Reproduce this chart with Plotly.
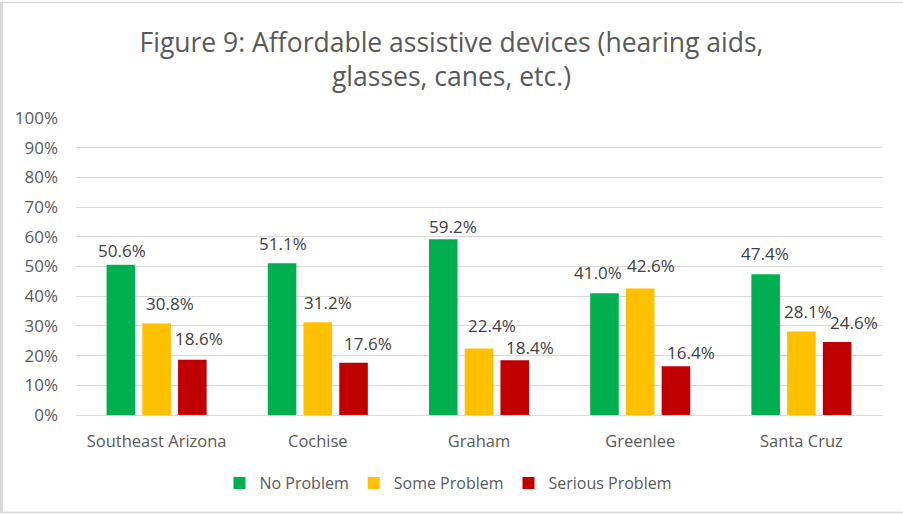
import plotly.graph_objects as go

categories = ["Southeast Arizona", "Cochise", "Graham", "Greenlee", "Santa Cruz"]
no_problem = [0.506, 0.511, 0.592, 0.410, 0.474]
some_problem = [0.308, 0.312, 0.224, 0.426, 0.281]
serious_problem = [0.186, 0.176, 0.184, 0.164, 0.246]
series_names = ["No Problem", "Some Problem", "Serious Problem"]
colors = ["#00B050", "#FFC000", "#C00000"]
y_ticks = [i / 10 for i in range(11)]

# label nudges (px) mimicking the reference's hand-placed data labels
label_dx = [
    [1, 1, 10, -6, -1],
    [13, 10, 13, 11, 7],
    [7, 14, 15, 15, 17],
]
label_dy = [
    [1, 6, -1, 7, 7],
    [7, 6, 9, 9, 7],
    [8, 6, -1, 0, 6],
]

FONT = "Open Sans"
L, R, T, B = 76, 21, 118, 99
W, H = 903, 514
PW, PH = W - L - R, H - T - B
BARGAP, BARGROUPGAP = 0.335, 0.2

fig = go.Figure()
series = [no_problem, some_problem, serious_problem]
for name, vals, col in zip(series_names, series, colors):
    fig.add_trace(go.Bar(
        x=categories, y=vals, name=name, marker_color=col,
        marker_line_width=0, cliponaxis=False,
    ))

cat_w = PW / len(categories)
slot = (1 - BARGAP) * cat_w / len(series)
for si, vals in enumerate(series):
    for ci, (cat, v) in enumerate(zip(categories, vals)):
        fig.add_annotation(
            x=cat, y=v, xref="x", yref="y", text=f"{v*100:.1f}%",
            showarrow=False, xanchor="center", yanchor="bottom",
            xshift=(si - 1) * slot + label_dx[si][ci], yshift=label_dy[si][ci],
            font=dict(family=FONT, size=17, color="#404040"),
        )

def px_x(p):
    return (p - L) / PW

def px_y(p):
    return (H - B - p) / PH

fig.update_layout(
    width=W, height=H,
    paper_bgcolor="white", plot_bgcolor="white",
    barmode="group", bargap=BARGAP, bargroupgap=BARGROUPGAP,
    margin=dict(l=L, r=R, t=T, b=B, autoexpand=False),
    title=dict(text="Figure 9: Affordable assistive devices (hearing aids,<br>glasses, canes, etc.)",
               x=0.5, xanchor="center", y=1 - 52 / H, yanchor="top",
               font=dict(family=FONT, size=26.5, color="#595959")),
    font=dict(family=FONT, color="#595959"),
    showlegend=True,
    legend=dict(orientation="h", x=0.5 - 31 / PW, xanchor="center", y=px_y(483), yanchor="middle",
                font=dict(family=FONT, size=16, color="#595959"),
                itemwidth=30, traceorder="normal"),
)
# outer chart border
fig.add_shape(type="line", xref="paper", yref="paper", x0=px_x(1.5), x1=px_x(1.5),
              y0=px_y(2.5), y1=px_y(513), line=dict(color="#D9D9D9", width=3))
fig.add_shape(type="line", xref="paper", yref="paper", x0=px_x(0), x1=px_x(W + 5),
              y0=px_y(2.5), y1=px_y(2.5), line=dict(color="#D9D9D9", width=1.5))
fig.add_shape(type="line", xref="paper", yref="paper", x0=px_x(0), x1=px_x(W + 5),
              y0=px_y(512.5), y1=px_y(512.5), line=dict(color="#D9D9D9", width=1.5))

fig.update_yaxes(range=[0, 1], tickvals=y_ticks, tickformat=".0%",
                 showgrid=True, gridcolor="#D9D9D9", gridwidth=1,
                 zeroline=False, showline=False, ticks="", ticklabelstandoff=17,
                 tickfont=dict(family=FONT, size=17, color="#595959"))
fig.update_xaxes(showline=True, linecolor="#D9D9D9", linewidth=1, ticks="",
                 ticklabelstandoff=11,
                 tickfont=dict(family=FONT, size=16.5, color="#595959"))

fig.write_html("out.html", config={"displayModeBar": False},
               post_script="document.body.style.margin='0';")
